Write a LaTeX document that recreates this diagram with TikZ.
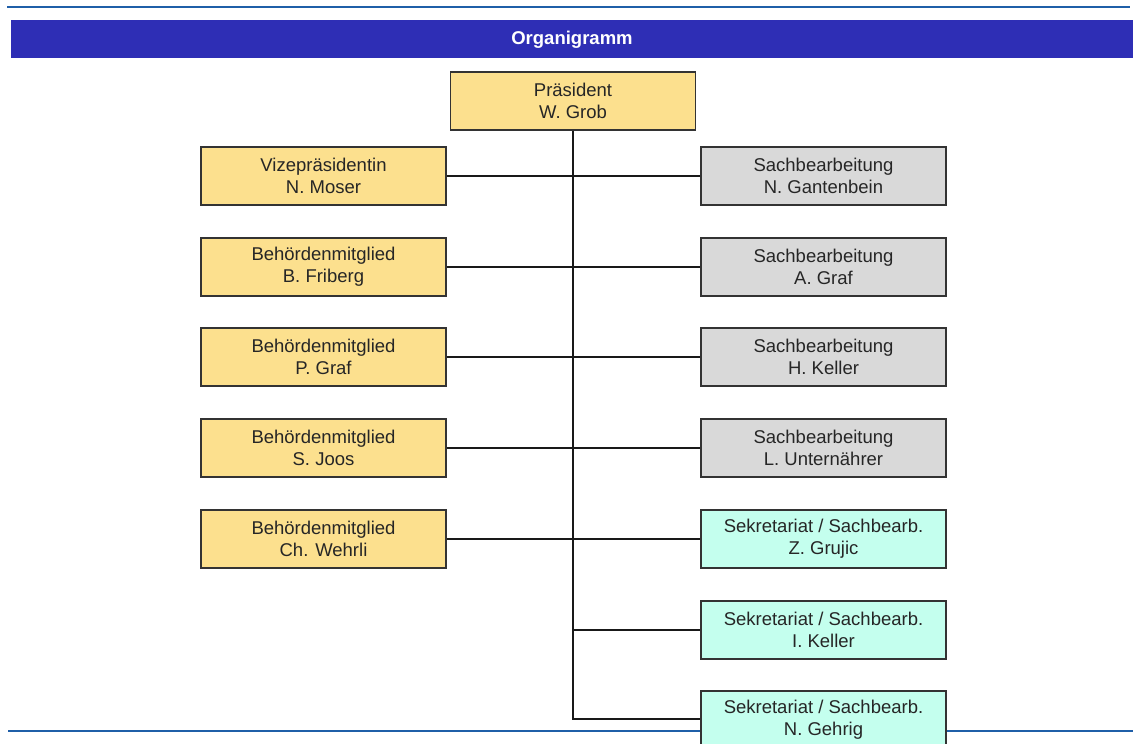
\documentclass[tikz,border=0pt]{standalone}
\usepackage{fontspec}
\setmainfont{Liberation Sans}
\definecolor{banner}{HTML}{2E2EB5}
\definecolor{rule}{HTML}{1F5FA8}
\definecolor{gelb}{HTML}{FCE08E}
\definecolor{grau}{HTML}{D9D9D9}
\definecolor{tuerkis}{HTML}{C4FFEE}
\begin{document}
\begin{tikzpicture}[x=1pt,y=-1pt,
	box/.style={draw=black!80,line width=1.3pt,minimum width=245pt,minimum height=58pt,inner sep=0pt,align=center,font=\fontsize{18.5}{22}\selectfont,text=black!85},
	leitung/.style={box,fill=gelb},
	sachb/.style={box,fill=grau},
	sekr/.style={box,fill=tuerkis},
	linie/.style={line width=1.3pt,black!90}]
	\useasboundingbox (0,0) rectangle (1133,744);
	\clip (0,0) rectangle (1133,744);
	\fill[banner] (11,20) rectangle (1133,58);
	\node[text=white,font=\fontsize{18.5}{22}\selectfont\bfseries] (titel) at (572,40) {Organigramm};
	\draw[rule,line width=2.5pt] (7,7) -- (1130,7);
	\draw[rule,line width=2.2pt] (8,731) -- (1133,731);
	\node[leitung] (praes) at (573,101) {Präsident\\W. Grob};
	\node[leitung] (vize) at (323.5,176) {Vizepräsidentin\\N. Moser};
	\node[leitung] (friberg) at (323.5,267) {Behördenmitglied\\B. Friberg};
	\node[leitung] (pgraf) at (323.5,357) {Behördenmitglied\\P. Graf};
	\node[leitung] (joos) at (323.5,448) {Behördenmitglied\\S. Joos};
	\node[leitung] (wehrli) at (323.5,539) {Behördenmitglied\\Ch. Wehrli};
	\node[sachb] (gantenbein) at (823.5,176) {Sachbearbeitung\\N. Gantenbein};
	\node[sachb] (agraf) at (823.5,267) {Sachbearbeitung\\A. Graf};
	\node[sachb] (hkeller) at (823.5,357) {Sachbearbeitung\\H. Keller};
	\node[sachb] (unternaehrer) at (823.5,448) {Sachbearbeitung\\L. Unternährer};
	\node[sekr] (grujic) at (823.5,539) {Sekretariat / Sachbearb.\\Z. Grujic};
	\node[sekr] (ikeller) at (823.5,630) {Sekretariat / Sachbearb.\\I. Keller};
	\node[sekr] (gehrig) at (823.5,720) {Sekretariat / Sachbearb.\\N. Gehrig};
	\coordinate (knick) at (574,719);
	\draw[linie] (praes.south) -- (praes.south |- knick) -- (gehrig.west |- knick);
	\draw[linie] (vize.east) -- (gantenbein.west);
	\draw[linie] (friberg.east) -- (agraf.west);
	\draw[linie] (pgraf.east) -- (hkeller.west);
	\draw[linie] (joos.east) -- (unternaehrer.west);
	\draw[linie] (wehrli.east) -- (grujic.west);
	\draw[linie] (praes.south |- ikeller.west) -- (ikeller.west);
\end{tikzpicture}
\end{document}
